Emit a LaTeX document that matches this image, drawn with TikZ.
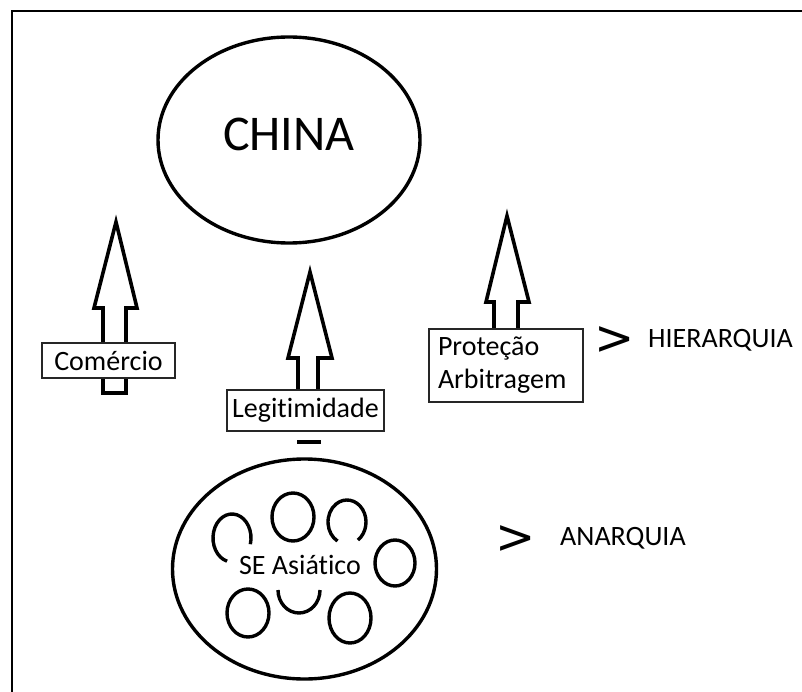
\documentclass[tikz,border=0pt]{standalone}
\usepackage{fontspec}
\setmainfont{Carlito}[Ligatures={NoCommon,NoContextual}]
\newfontfamily\signfont{DejaVu Sans}
\usetikzlibrary{shapes.geometric}
\begin{document}
\begin{tikzpicture}[x=1pt,y=-1pt,
  outline/.style={draw=black,line width=3.4pt},
  blockarrow/.style={draw=black,line width=3.6pt,fill=white,line join=miter},
  labelbox/.style={draw=black!85,line width=1.4pt,fill=white,inner sep=0pt,font=\fontsize{28}{33}\selectfont},
  plain/.style={inner sep=0pt,font=\fontsize{28}{33}\selectfont},
  gt/.style={inner sep=0pt,font=\signfont\fontsize{48}{48}\selectfont}]
\useasboundingbox (0,0) rectangle (802,692);
\fill[white] (0,0) rectangle (802,692);

% open frame: left and top sides
\draw[line width=2.6pt] (12,692) -- (12,11) -- (802,11);

% China
\node[ellipse,outline,minimum width=262pt,minimum height=206pt] (china) at (289,140) {};
\node[inner sep=0pt,font=\fontsize{50}{50}\selectfont] (chinatext) at (289,134) {CHINA};

% Southeast Asia with its scattered states
\node[ellipse,outline,minimum width=264pt,minimum height=220pt] (sea) at (304.5,569) {};
\draw[outline] ([shift={(15:19 and 24)}]232,538) arc[start angle=15,end angle=-255,x radius=19,y radius=24];
\draw[outline] (293,517) ellipse[x radius=21,y radius=24];
\draw[outline] ([shift={(55:19 and 22)}]347,522) arc[start angle=55,end angle=-240,x radius=19,y radius=22];
\draw[outline] (395,563) ellipse[x radius=20,y radius=23];
\draw[outline] (248,613) ellipse[x radius=21,y radius=24];
\draw[outline] ([shift={(180:21 and 23)}]299,590) arc[start angle=180,end angle=0,x radius=21,y radius=23];
\draw[outline] (350,618) ellipse[x radius=21,y radius=25];
\node[plain] (seatext) at (300,565) {SE Asiático};

% upward block arrows
\draw[blockarrow] (103,393) -- (103,308) -- (94,308) -- (116,222) -- (137,308) -- (126,308) -- (126,393) -- cycle;
\draw[blockarrow] (298,392) -- (298,358) -- (288,358) -- (310,272) -- (332,358) -- (318,358) -- (318,392);
\draw[line width=3.6pt] (297,442) -- (321,442);
\draw[blockarrow] (494,331) -- (494,302) -- (486,302) -- (507,216) -- (529,302) -- (518,302) -- (518,331);

% labels on the arrows
\node[labelbox,minimum width=133pt,minimum height=35pt] (comercio) at (108.5,360.5) {Comércio};
\node[labelbox,minimum width=157pt,minimum height=41pt] (legit) at (305.5,410.5) {Legitimidade};
\node[labelbox,minimum width=154pt,minimum height=73pt,align=left,text width=136pt,inner xsep=9pt] (protecao) at (506,365.5) {Proteção\\Arbitragem};

% levels
\node[gt] (gthier) at (615,341) {>};
\node[plain,anchor=west] (hier) at (648,340) {HIERARQUIA};
\node[gt] (gtanar) at (516,540) {>};
\node[plain,anchor=west] (anar) at (560,538) {ANARQUIA};
\end{tikzpicture}
\end{document}
